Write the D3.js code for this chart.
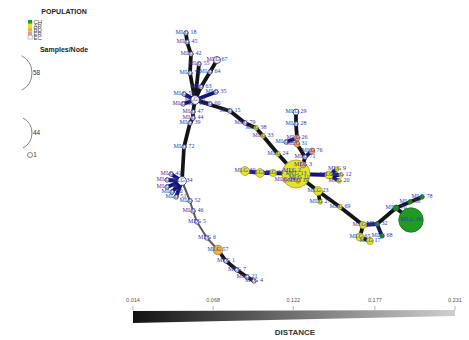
<!DOCTYPE html>
<html>
<head>
<meta charset="utf-8">
<script src="https://cdn.jsdelivr.net/npm/d3@7/dist/d3.min.js"></script>
<style>
  html, body { margin: 0; padding: 0; background: #fff; }
  svg { display: block; }
</style>
</head>
<body>
<svg id="chart" width="469" height="340"></svg>
<script>
// Populations shown in the legend
const populations = ["CH", "AR", "BD", "ER", "EC"];

// Minimum spanning network nodes: [MLG id, population, samples, layoutX, layoutY]
const nodes = [
  [18, "EC", 1, 36, 8], [45, "EC", 1, 37, 17], [42, "EC", 1, 41, 29], [55, "EC", 1, 49, 39],
  [67, "EC", 3, 67, 35], [64, "EC", 1, 60, 47], [53, "EC", 1, 40, 48], [63, "EC", 1, 51, 62],
  [35, "EC", 1, 66, 67], [59, "EC", 1, 34, 69], [62, "EC", 5, 45, 75], [10, "EC", 1, 33, 79],
  [60, "EC", 1, 60, 79], [47, "EC", 1, 43, 87], [44, "EC", 1, 43, 93], [39, "EC", 1, 40, 98],
  [15, "EC", 1, 80, 86], [79, "EC", 1, 95, 98], [38, "AR", 1, 106, 103], [33, "AR", 1, 113, 111],
  [24, "AR", 1, 128, 129], [72, "EC", 1, 34, 122], [34, "EC", 5, 32, 156], [41, "EC", 1, 21, 149],
  [48, "EC", 1, 17, 155], [49, "EC", 1, 17, 162], [50, "EC", 1, 22, 167], [51, "EC", 1, 26, 172],
  [52, "EC", 1, 40, 176], [46, "EC", 1, 43, 186], [5, "EC", 1, 47, 197], [6, "EC", 1, 57, 213],
  [57, "BD", 6, 68, 225], [1, "EC", 1, 76, 236], [7, "EC", 1, 87, 245], [21, "EC", 1, 97, 252],
  [4, "EC", 1, 104, 256], [29, "EC", 2, 146, 87], [28, "EC", 1, 146, 99], [26, "ER", 2, 147, 113],
  [31, "BD", 2, 147, 119], [25, "EC", 1, 136, 117], [76, "ER", 2, 162, 126], [71, "EC", 1, 155, 132],
  [3, "ER", 2, 153, 140], [13, "AR", 58, 146, 149], [2, "AR", 1, 142, 146], [11, "AR", 1, 149, 153],
  [14, "ER", 1, 135, 155], [19, "BD", 1, 148, 156], [30, "AR", 5, 95, 146], [43, "AR", 5, 110, 148],
  [22, "AR", 3, 123, 148], [8, "AR", 4, 179, 150], [9, "AR", 1, 187, 144], [12, "AR", 1, 191, 150],
  [20, "AR", 1, 189, 156], [23, "AR", 5, 168, 166], [27, "AR", 1, 170, 177], [69, "AR", 1, 190, 182],
  [61, "AR", 3, 213, 200], [32, "CH", 1, 227, 199], [65, "AR", 4, 210, 212], [17, "AR", 3, 220, 216],
  [68, "CH", 1, 232, 211], [70, "CH", 2, 246, 183], [36, "CH", 44, 261, 195], [58, "CH", 1, 260, 177],
  [78, "CH", 1, 272, 172]
];

// Network edges: [from MLG, to MLG, genetic distance, tied link (1) or not (0)]
const links = [
  [18, 45, 0.016, 0], [45, 42, 0.016, 0], [42, 53, 0.016, 0], [53, 62, 0.016, 0],
  [67, 64, 0.016, 0], [64, 63, 0.016, 0], [63, 62, 0.016, 0], [55, 62, 0.016, 0],
  [35, 62, 0.014, 1], [59, 62, 0.014, 1], [10, 62, 0.014, 1], [60, 62, 0.014, 1],
  [62, 47, 0.016, 0], [47, 44, 0.016, 0], [44, 39, 0.016, 0], [39, 72, 0.016, 0], [72, 34, 0.018, 0],
  [62, 15, 0.016, 0], [15, 79, 0.016, 0], [79, 38, 0.016, 0], [38, 33, 0.016, 0], [33, 24, 0.016, 0],
  [24, 13, 0.016, 0],
  [34, 41, 0.014, 1], [34, 48, 0.014, 1], [34, 49, 0.014, 1], [34, 50, 0.014, 1], [34, 51, 0.014, 1],
  [34, 52, 0.095, 0], [52, 46, 0.1, 0], [46, 5, 0.1, 0], [5, 6, 0.1, 0], [6, 57, 0.1, 0],
  [57, 1, 0.02, 0], [1, 7, 0.02, 0], [7, 21, 0.02, 0], [21, 4, 0.02, 0],
  [29, 28, 0.016, 0], [28, 26, 0.016, 0], [26, 31, 0.016, 0], [26, 25, 0.014, 1], [31, 71, 0.016, 0],
  [76, 71, 0.014, 1], [71, 3, 0.016, 0], [3, 13, 0.016, 0],
  [30, 43, 0.014, 1], [43, 22, 0.014, 1], [22, 13, 0.014, 1],
  [13, 2, 0.014, 0], [13, 11, 0.014, 0], [13, 14, 0.014, 0], [13, 19, 0.014, 0],
  [13, 8, 0.014, 1], [8, 9, 0.016, 1], [8, 12, 0.016, 1], [8, 20, 0.016, 1],
  [13, 23, 0.016, 0], [23, 27, 0.016, 0], [23, 69, 0.016, 0], [69, 61, 0.016, 0],
  [61, 65, 0.016, 0], [65, 17, 0.016, 0], [61, 32, 0.014, 1], [32, 68, 0.014, 1],
  [32, 70, 0.016, 0], [70, 36, 0.016, 0], [70, 58, 0.02, 0], [58, 78, 0.02, 0]
];

// Distance colour bar ticks
const distanceTicks = [0.014, 0.068, 0.122, 0.177, 0.231];

// Node-size legend entries (samples per node)
const legendSamples = [58, 44, 1];

const svg = d3.select("#chart");

const popColor = d3.scaleOrdinal()
  .domain(populations)
  .range(["#1f9a22", "#e4e42a", "#eeb04a", "#ee9c86", "#ffffff"]);

// Layout space to screen
const x = d3.scaleLinear().domain([0, 300]).range([150, 450]);
const y = d3.scaleLinear().domain([0, 260]).range([25, 285]);
const r = d3.scaleSqrt().domain([1, 58]).range([2.2, 14]);

const distExtent = [distanceTicks[0], distanceTicks[distanceTicks.length - 1]];
const edgeColor = d3.scaleLinear().domain(distExtent).range(["#121212", "#cfcfcf"]);
const edgeWidth = d3.scaleLinear().domain([0.014, 0.1]).range([3.8, 2]).clamp(true);

const nodeData = nodes.map(([id, pop, n, lx, ly]) => ({ id, pop, n, lx, ly }));
const byId = new Map(nodeData.map(d => [d.id, d]));
const linkData = links.map(([a, b, dist, tie]) => ({ a: byId.get(a), b: byId.get(b), dist, tie }));

// ---- Edges ----
svg.append("g").selectAll("line")
  .data(linkData)
  .join("line")
  .attr("x1", d => x(d.a.lx)).attr("y1", d => y(d.a.ly))
  .attr("x2", d => x(d.b.lx)).attr("y2", d => y(d.b.ly))
  .attr("stroke", d => d.tie ? "#15156e" : edgeColor(d.dist))
  .attr("stroke-width", d => edgeWidth(d.dist))
  .attr("stroke-linecap", "round");

// ---- Nodes (large first so small ones stay visible) ----
const sortedNodes = nodeData.slice().sort((p, q) => q.n - p.n);
svg.append("g").selectAll("circle")
  .data(sortedNodes)
  .join("circle")
  .attr("cx", d => x(d.lx))
  .attr("cy", d => y(d.ly))
  .attr("r", d => r(d.n))
  .attr("fill", d => popColor(d.pop))
  .attr("stroke", d => d.pop === "EC" ? "#2a2a72" : d3.color(popColor(d.pop)).darker(0.9))
  .attr("stroke-width", 0.8);

// ---- Node labels ----
svg.append("g").selectAll("text")
  .data(nodeData)
  .join("text")
  .attr("x", d => x(d.lx))
  .attr("y", d => y(d.ly))
  .attr("text-anchor", "middle")
  .attr("dominant-baseline", "middle")
  .attr("font-family", "Liberation Serif, Times New Roman, serif")
  .attr("font-size", 6)
  .attr("fill", "#3535a8")
  .text(d => "MLG " + d.id);

// ---- Population legend ----
const leg = svg.append("g").attr("font-family", "Liberation Sans, Arial, sans-serif");
leg.append("text").attr("x", 64).attr("y", 14).attr("text-anchor", "middle")
  .attr("font-size", 7).attr("font-weight", "bold").attr("fill", "#222").text("POPULATION");
const sq = 3.8;
populations.forEach((p, i) => {
  leg.append("rect").attr("x", 28).attr("y", 20 + i * sq).attr("width", 4.2).attr("height", sq)
    .attr("fill", popColor(p)).attr("stroke", p === "EC" ? "#888" : "none").attr("stroke-width", 0.5);
  leg.append("text").attr("x", 33.5).attr("y", 20 + (i + 1) * sq + 0.6)
    .attr("font-size", 6).attr("fill", "#444").text(p);
});

leg.append("text").attr("x", 64).attr("y", 52).attr("text-anchor", "middle")
  .attr("font-size", 7).attr("font-weight", "bold").attr("fill", "#222").text("Samples/Node");

// ---- Size legend ----
const rLegend = d3.scaleSqrt().domain([1, 58]).range([2.5, 19.5]);
const sizeLegendY = d3.scalePoint().domain(legendSamples).range([73, 155]);
const sizeLegendYs = { 58: 73, 44: 133, 1: 155 };
legendSamples.forEach(s => {
  const rr = rLegend(s);
  const cy = sizeLegendYs[s];
  if (s > 1) {
    const cx = 32 - rr;
    const a = 62 * Math.PI / 180;
    const p = d3.path();
    p.arc(cx, cy, rr, -a, a);
    leg.append("path").attr("d", p.toString()).attr("fill", "none")
      .attr("stroke", "#777").attr("stroke-width", 0.9);
    leg.append("text").attr("x", 33).attr("y", cy + 2.2).attr("font-size", 6.5)
      .attr("fill", "#333").text(s);
  } else {
    leg.append("circle").attr("cx", 30).attr("cy", cy).attr("r", rr)
      .attr("fill", "#fff").attr("stroke", "#666").attr("stroke-width", 0.8);
    leg.append("text").attr("x", 33.2).attr("y", cy + 2.3).attr("font-size", 6.5)
      .attr("fill", "#333").text(s);
  }
});

// ---- Distance colour bar ----
const cb = d3.scaleLinear().domain(distExtent).range([133, 455]);
const defs = svg.append("defs");
const grad = defs.append("linearGradient").attr("id", "distGrad")
  .attr("x1", "0%").attr("x2", "100%").attr("y1", "0%").attr("y2", "0%");
grad.append("stop").attr("offset", "0%").attr("stop-color", edgeColor(distExtent[0]));
grad.append("stop").attr("offset", "100%").attr("stop-color", edgeColor(distExtent[1]));

const x0 = cb(distExtent[0]), x1 = cb(distExtent[1]);
svg.append("path")
  .attr("d", `M${x0},311 L${x1},310 L${x1},316 L${x0},323 Z`)
  .attr("fill", "url(#distGrad)");

const cbAxis = svg.append("g").attr("font-family", "Liberation Sans, Arial, sans-serif");
cbAxis.selectAll("line").data(distanceTicks).join("line")
  .attr("x1", d => cb(d)).attr("x2", d => cb(d))
  .attr("y1", 306).attr("y2", 310)
  .attr("stroke", "#999").attr("stroke-width", 0.7);
cbAxis.selectAll("text").data(distanceTicks).join("text")
  .attr("x", d => cb(d)).attr("y", 302)
  .attr("text-anchor", "middle").attr("font-size", 5.5).attr("fill", "#555")
  .text(d => d3.format(".3f")(d));

svg.append("text").attr("x", 295).attr("y", 335).attr("text-anchor", "middle")
  .attr("font-family", "Liberation Sans, Arial, sans-serif")
  .attr("font-size", 8).attr("font-weight", "bold").attr("fill", "#333").text("DISTANCE");
</script>
</body>
</html>
